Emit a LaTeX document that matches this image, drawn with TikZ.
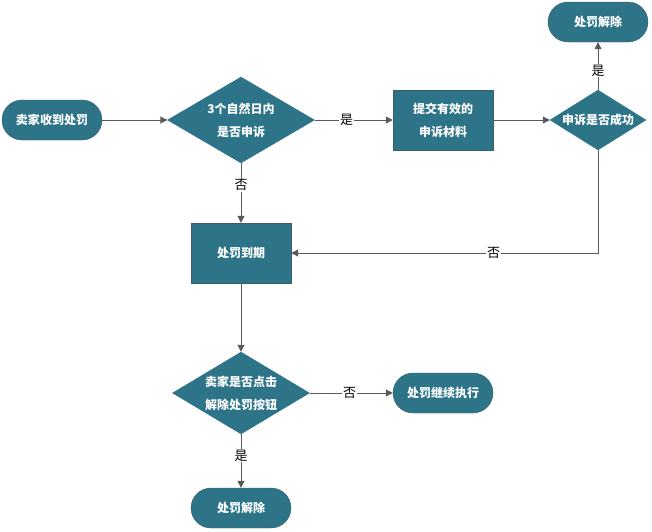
\documentclass[tikz,border=0pt]{standalone}
\usepackage{fontspec}
\newfontfamily\cjk{Noto Sans CJK SC}
\usepackage{tikz}
\usetikzlibrary{shapes.geometric,arrows.meta}
\definecolor{teal1}{HTML}{2D7489}
\definecolor{rim}{HTML}{3B5E6C}
\definecolor{wire}{HTML}{5A5A5A}

\begin{document}
\begin{tikzpicture}[x=1pt,y=-1pt,font=\cjk\fontsize{12pt}{23pt}\selectfont]
        %
        % `terminal' is used for the rounded start/end boxes.
        % `process' is used for plain steps, `decision' for the diamonds.
        % `answer' is used for the yes/no labels on the lines.
        \tikzstyle{terminal} = [draw=rim,fill=teal1,text=white,font=\cjk\bfseries\fontsize{12pt}{23pt}\selectfont,minimum width=100pt,minimum height=40pt,rounded corners=20pt]
        \tikzstyle{process} = [draw=rim,fill=teal1,text=white,font=\cjk\bfseries\fontsize{12pt}{23pt}\selectfont,minimum width=100pt,minimum height=60pt,align=center]
        \tikzstyle{decision} = [diamond,draw=teal1,fill=teal1,text=white,font=\cjk\bfseries\fontsize{12pt}{23pt}\selectfont,inner sep=0pt,align=center]
        \tikzstyle{answer} = [fill=white,text=black,inner sep=1pt,font=\cjk\fontsize{13pt}{15pt}\selectfont]
        \tikzstyle{line} = [draw=wire,line width=1pt,-{Triangle[length=7pt,width=7pt]}]
        \useasboundingbox (0,0) rectangle (652,531);
        %
        % Row 1
        \node[terminal] (start) at (52,120) {卖家收到处罚};
        \node[decision,minimum width=147pt,minimum height=86pt,aspect=1.71] (ask) at (241,120) {3个自然日内\\是否申诉};
        \node[process] (submit) at (443,120) {提交有效的\\申诉材料};
        \node[decision,minimum width=96pt,minimum height=60pt,aspect=1.6] (win) at (598,120) {申诉是否成功};
        \node[terminal] (lift1) at (598,22) {处罚解除};
        %
        % Row 2
        \node[process] (expire) at (241,253) {处罚到期};
        %
        % Row 3
        \node[decision,minimum width=137pt,minimum height=82pt,aspect=1.67] (click) at (241,393) {卖家是否点击\\解除处罚按钮};
        \node[terminal] (goon) at (443,393) {处罚继续执行};
        \node[terminal] (lift2) at (241,508) {处罚解除};
        %
        % Lines
        \draw[line] (start) -- (ask);
        \draw[line] (ask) -- node[answer,pos=0.41] (yes1) {是} (submit);
        \draw[line] (submit) -- (win);
        \draw[line] (win) -- node[answer,pos=0.4] (yes2) {是} (lift1);
        \draw[line] (win.south) |- node[answer,pos=0.67] (no2) {否} (expire.east);
        \draw[line] (ask) -- node[answer,pos=0.37] (no1) {否} (expire);
        \draw[line] (expire) -- (click);
        \draw[line] (click) -- node[answer,pos=0.48] (no3) {否} (goon);
        \draw[line] (click) -- node[answer,pos=0.4] (yes3) {是} (lift2);
        %
\end{tikzpicture}
\end{document}
